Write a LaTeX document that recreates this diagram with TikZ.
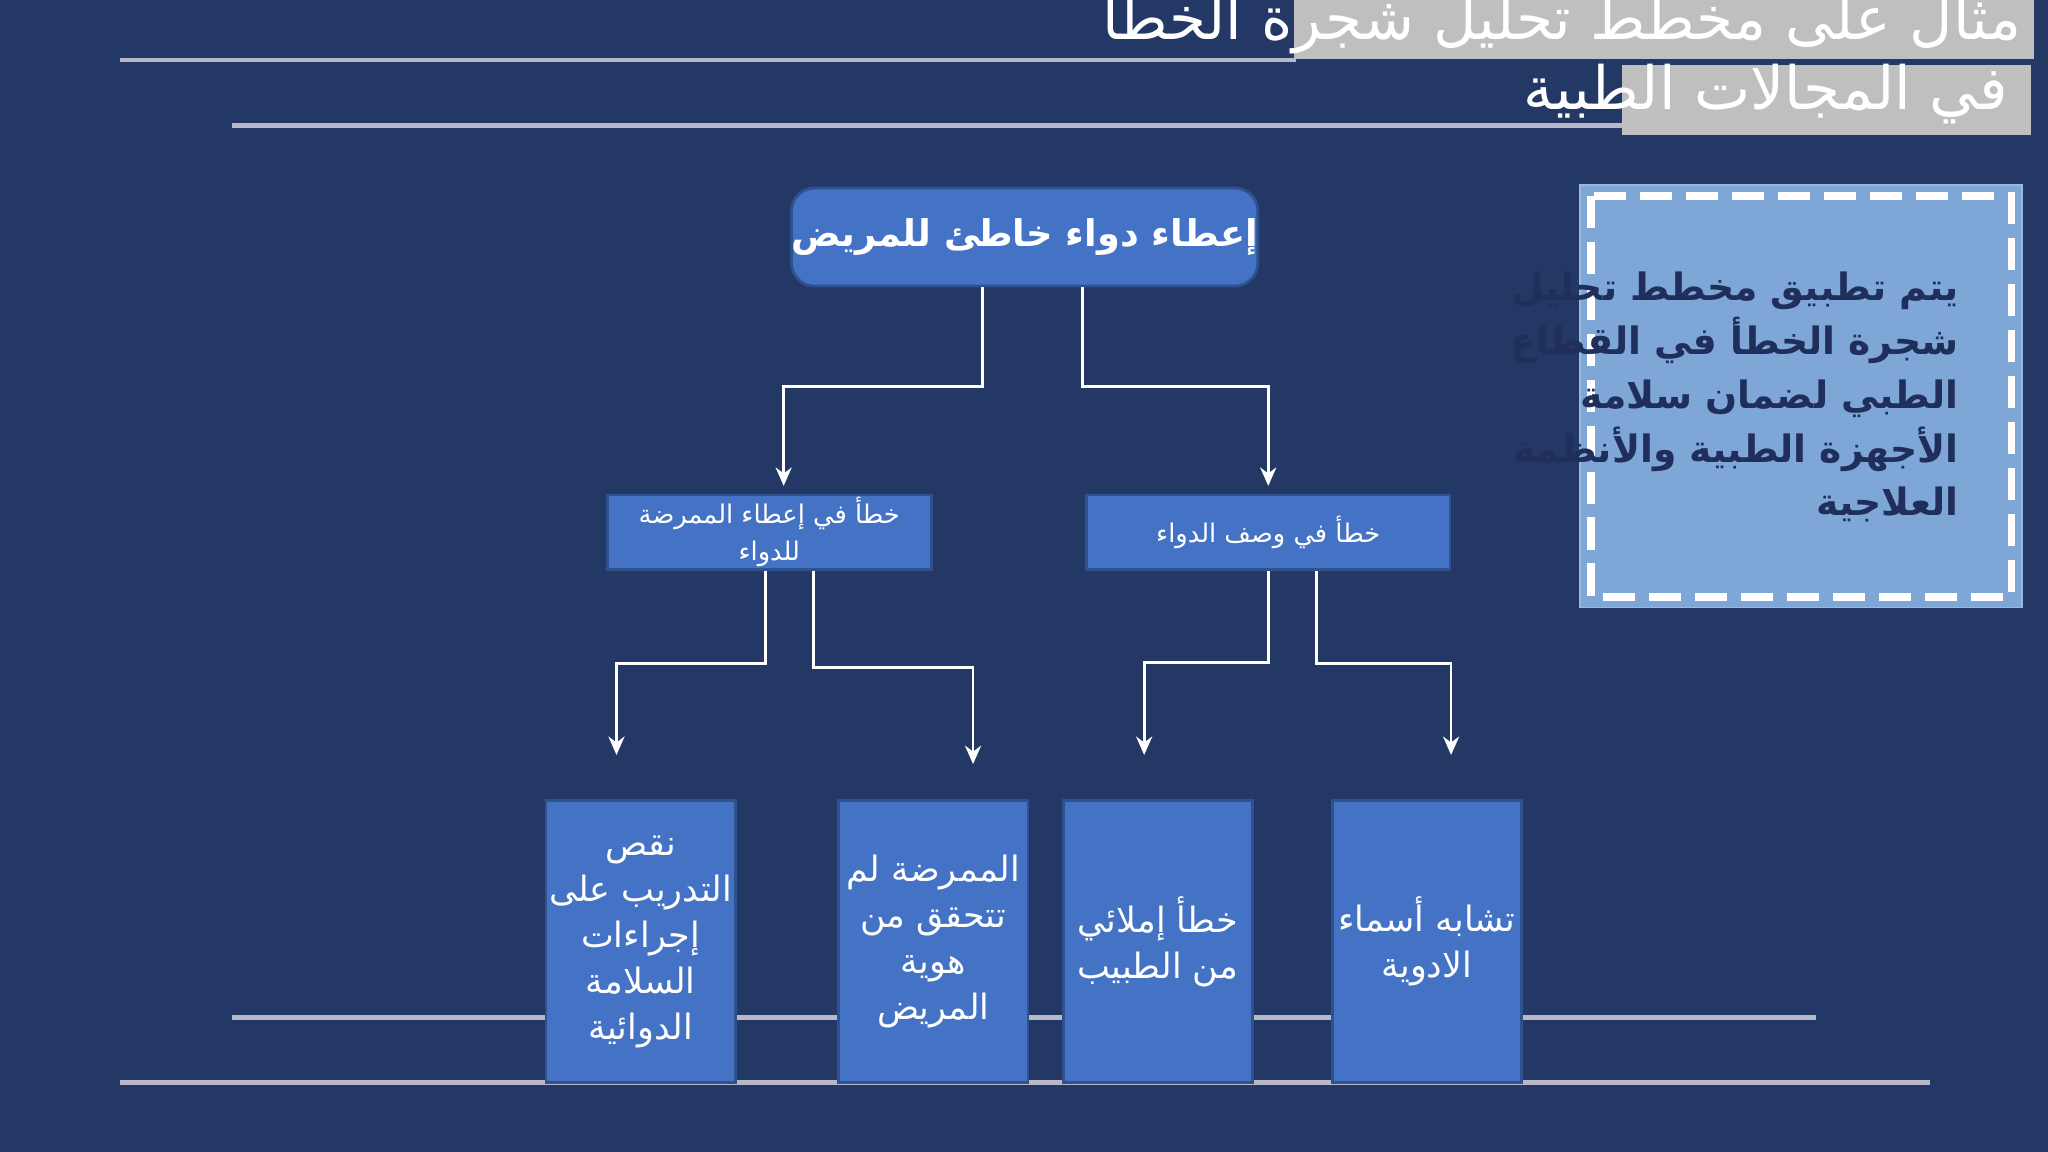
\documentclass[tikz,border=0pt]{standalone}
\usepackage{fontspec}
\TeXXeTstate=1
\newfontfamily\arabicfont[Script=Arabic]{DejaVu Sans}
\usetikzlibrary{arrows.meta}
\definecolor{bgc}{HTML}{243866}
\definecolor{boxc}{HTML}{4472C4}
\definecolor{boxe}{HTML}{2F528F}
\definecolor{sidec}{HTML}{7EA6D6}
\definecolor{darkt}{HTML}{1F2E5A}
\definecolor{titc}{HTML}{BFBFBF}
\definecolor{linec}{HTML}{B8B8C8}
\tikzset{
  bx/.style={draw=boxe,fill=boxc,line width=0.6pt,text=white,align=center,inner sep=0pt},
  conn/.style={draw=white,line width=0.6pt},
  arr/.style={conn,-{Stealth[length=4pt,width=3.5pt]}},
  hl/.style={draw=linec,line width=1pt},
}
\begin{document}
\begin{tikzpicture}[x=0.01cm,y=-0.01cm]
\fill[bgc] (0,0) rectangle (1568,882);
\useasboundingbox (0,0) rectangle (1568,882);
% lines
\draw[hl] (92,46) -- (992,46);
\draw[hl] (178,96) -- (1242,96);
\draw[hl] (178,779) -- (1390,779);
\draw[hl] (92,829) -- (1478,829);
% title
\fill[titc] (991,0) rectangle (1557,45);
\fill[titc] (1242,50) rectangle (1555,103);
\node[text=white,font=\arabicfont\fontsize{13}{14}\selectfont,anchor=east] (t1) at (1560,12) {\beginR مثال على مخطط تحليل شجرة الخطأ\endR};
\node[text=white,font=\arabicfont\fontsize{13}{14}\selectfont,anchor=east] (t2) at (1550,72) {\beginR في المجالات الطبية\endR};
% nodes
\node[bx,rounded corners=5pt,minimum width=2.91cm,minimum height=0.75cm,font=\arabicfont\bfseries\fontsize{8}{10}\selectfont] (top) at (784.5,181.5) {\beginR إعطاء دواء خاطئ للمريض\endR};
\node[bx,minimum width=2.48cm,minimum height=0.57cm,font=\arabicfont\fontsize{5.6}{8}\selectfont] (ml) at (589,407.5) {\beginR خطأ في إعطاء الممرضة\endR\\\beginR للدواء\endR};
\node[bx,minimum width=2.78cm,minimum height=0.57cm,font=\arabicfont\fontsize{5.6}{8}\selectfont] (mr) at (971,407.5) {\beginR خطأ في وصف الدواء\endR};
\tikzset{bb/.style={bx,minimum width=1.45cm,minimum height=2.16cm,font=\arabicfont\fontsize{7.6}{10}\selectfont}}
\node[bb] (b1) at (490.5,721) {\beginR نقص\endR\\\beginR التدريب على\endR\\\beginR إجراءات\endR\\\beginR السلامة\endR\\\beginR الدوائية\endR};
\node[bb] (b2) at (714.5,721) {\beginR الممرضة لم\endR\\\beginR تتحقق من\endR\\\beginR هوية\endR\\\beginR المريض\endR};
\node[bb] (b3) at (886.5,721) {\beginR خطأ إملائي\endR\\\beginR من الطبيب\endR};
\node[bb] (b4) at (1092.5,721) {\beginR تشابه أسماء\endR\\\beginR الادوية\endR};
% arrow ends
\coordinate (e1) at (600,372);
\coordinate (e2) at (971,372);
\coordinate (e3) at (472,578);
\coordinate (e4) at (745,585);
\coordinate (e5) at (876,578);
\coordinate (e6) at (1111,578);
\draw[arr] (top.south -| 752,0) |- (e1 |- 0,296) -- (e1);
\draw[arr] (top.south -| 829,0) |- (e2 |- 0,296) -- (e2);
\draw[arr] (ml.south -| 586,0) |- (e3 |- 0,508) -- (e3);
\draw[arr] (ml.south -| 623,0) |- (e4 |- 0,511) -- (e4);
\draw[arr] (mr.south -| 971,0) |- (e5 |- 0,507) -- (e5);
\draw[arr] (mr.south -| 1008,0) |- (e6 |- 0,508) -- (e6);
% side box
\node[fill=sidec,draw=sidec!80!white,minimum width=3.38cm,minimum height=3.23cm,inner sep=0pt] (side) at (1379,303.5) {};
\draw[white,line width=1.6pt,dash pattern=on 7pt off 3pt] (1218,150) rectangle (1540,457);
\node[text=darkt,font=\arabicfont\bfseries\fontsize{8.2}{11.7}\selectfont,align=right,anchor=north east] (st) at (1512,196) {\beginR يتم تطبيق مخطط تحليل\endR\\\beginR شجرة الخطأ في القطاع\endR\\\beginR الطبي لضمان سلامة\endR\\\beginR الأجهزة الطبية والأنظمة\endR\\\beginR العلاجية\endR};
\end{tikzpicture}
\end{document}
